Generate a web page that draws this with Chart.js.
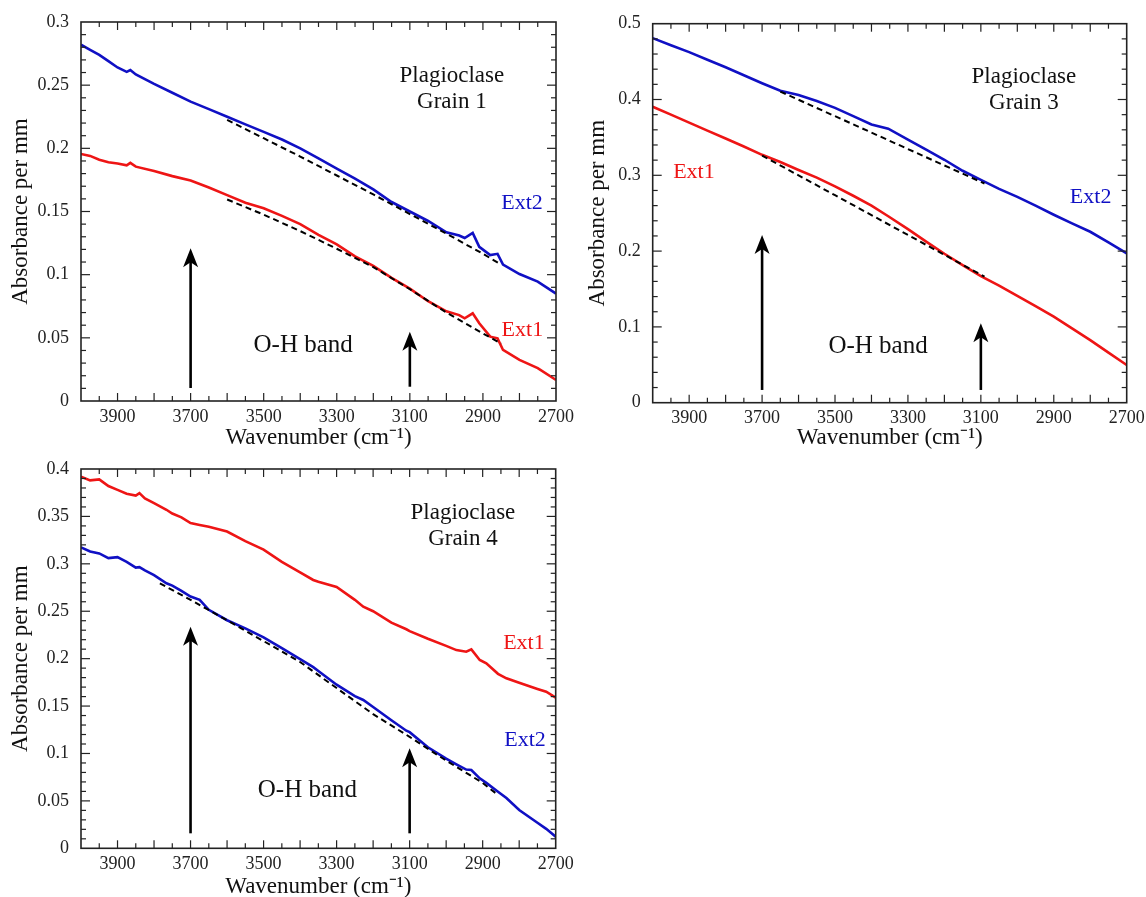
<!DOCTYPE html>
<html>
<head>
<meta charset="utf-8">
<script src="https://cdn.jsdelivr.net/npm/chart.js@4.4.0/dist/chart.umd.min.js"></script>
<style>
  body { margin: 0; background: #fff; overflow: hidden; width: 1146px; height: 897px; position: relative; }
  canvas { position: absolute; }
</style>
</head>
<body>
<canvas id="grain1" width="590" height="460" style="left:0;top:0"></canvas>
<canvas id="grain3" width="573" height="460" style="left:573px;top:0"></canvas>
<canvas id="grain4" width="590" height="460" style="left:0;top:447px"></canvas>
<script>
// x axis, shared by the three panels
const wnTicks = [3900, 3700, 3500, 3300, 3100, 2900, 2700];
const arrowWn = [3700, 3100];

// Grain 1
const g1Wn = [4000, 3975, 3950, 3925, 3900, 3875, 3865, 3850, 3800, 3750, 3700, 3650, 3600, 3550, 3500, 3450, 3400, 3350, 3300, 3250, 3200, 3150, 3100, 3050, 3000, 2965, 2950, 2928, 2910, 2880, 2860, 2845, 2800, 2750, 2700];
const g1Ext1 = [0.1955, 0.194, 0.191, 0.189, 0.188, 0.1865, 0.1885, 0.1855, 0.182, 0.178, 0.1745, 0.169, 0.163, 0.157, 0.1525, 0.1465, 0.140, 0.1315, 0.124, 0.1145, 0.107, 0.0975, 0.089, 0.079, 0.071, 0.068, 0.0655, 0.0694, 0.0615, 0.0509, 0.0496, 0.0404, 0.0325, 0.026, 0.0166];
const g1Ext2 = [0.282, 0.278, 0.274, 0.269, 0.264, 0.2605, 0.262, 0.2585, 0.251, 0.244, 0.237, 0.231, 0.225, 0.219, 0.213, 0.207, 0.200, 0.192, 0.184, 0.176, 0.1675, 0.1575, 0.150, 0.1425, 0.1335, 0.131, 0.129, 0.133, 0.122, 0.1155, 0.1165, 0.108, 0.1005, 0.0945, 0.085];
const g1BaseWn = [3600, 3500, 3400, 3300, 3200, 3100, 3000, 2900, 2850];
const g1Base1 = [0.1595, 0.1475, 0.1345, 0.1205, 0.106, 0.0885, 0.070, 0.0535, 0.0455];
const g1Base2 = [0.2225, 0.208, 0.1935, 0.1785, 0.1635, 0.148, 0.1325, 0.1165, 0.108];
const g1ArrowFrom = [0.0103, 0.0113];
const g1ArrowTo = [0.121, 0.0548];
const g1YTicks = [0, 0.05, 0.1, 0.15, 0.2, 0.25, 0.3];

// Grain 3
const g3Wn = [4000, 3950, 3900, 3850, 3800, 3750, 3700, 3650, 3600, 3550, 3500, 3450, 3400, 3354, 3300, 3250, 3200, 3150, 3100, 3050, 3000, 2950, 2900, 2850, 2800, 2750, 2700];
const g3Ext1 = [0.3905, 0.380, 0.3695, 0.359, 0.3485, 0.338, 0.327, 0.3175, 0.307, 0.297, 0.2855, 0.273, 0.260, 0.246, 0.229, 0.2125, 0.1965, 0.1815, 0.167, 0.1545, 0.141, 0.1275, 0.1135, 0.098, 0.0825, 0.066, 0.0497];
const g3Ext2 = [0.481, 0.4715, 0.4625, 0.4525, 0.4425, 0.432, 0.4215, 0.4115, 0.406, 0.398, 0.389, 0.378, 0.367, 0.3615, 0.347, 0.334, 0.3205, 0.306, 0.294, 0.282, 0.2715, 0.260, 0.248, 0.2365, 0.2255, 0.2115, 0.197];
const g3Base1Wn = [3700, 3600, 3500, 3400, 3300, 3200, 3090];
const g3Base1 = [0.326, 0.2999, 0.2737, 0.2475, 0.2213, 0.1951, 0.1663];
const g3Base2Wn = [3650, 3550, 3450, 3350, 3250, 3150, 3090];
const g3Base2 = [0.4105, 0.3888, 0.3672, 0.3455, 0.3238, 0.3022, 0.2892];
const g3ArrowFrom = [0.0168, 0.0168];
const g3ArrowTo = [0.2212, 0.1047];
const g3YTicks = [0, 0.1, 0.2, 0.3, 0.4, 0.5];

// Grain 4
const g4Wn = [4000, 3975, 3950, 3925, 3900, 3875, 3850, 3840, 3825, 3800, 3766, 3750, 3725, 3700, 3675, 3650, 3600, 3550, 3500, 3450, 3400, 3364, 3350, 3300, 3250, 3227, 3200, 3150, 3109, 3100, 3050, 3000, 2972, 2945, 2931, 2908, 2890, 2858, 2835, 2800, 2750, 2726, 2700];
const g4Ext1 = [0.392, 0.388, 0.389, 0.382, 0.378, 0.374, 0.372, 0.3745, 0.369, 0.364, 0.357, 0.353, 0.349, 0.343, 0.341, 0.339, 0.334, 0.324, 0.315, 0.302, 0.291, 0.283, 0.281, 0.2755, 0.262, 0.2548, 0.250, 0.238, 0.231, 0.229, 0.221, 0.2135, 0.209, 0.2073, 0.2098, 0.1986, 0.195, 0.184, 0.1793, 0.1745, 0.168, 0.1651, 0.159];
const g4Ext2 = [0.3174, 0.313, 0.311, 0.306, 0.307, 0.302, 0.296, 0.2965, 0.293, 0.288, 0.2795, 0.277, 0.2715, 0.2655, 0.262, 0.2515, 0.2405, 0.232, 0.2225, 0.211, 0.1995, 0.191, 0.187, 0.1725, 0.1605, 0.1564, 0.149, 0.135, 0.124, 0.1225, 0.1065, 0.0945, 0.0885, 0.083, 0.0826, 0.0738, 0.069, 0.0597, 0.053, 0.0404, 0.027, 0.0205, 0.0122];
const g4BaseWn = [3784, 3700, 3600, 3500, 3400, 3300, 3200, 3100, 3000, 2900, 2858];
const g4Base2 = [0.2794, 0.262, 0.2405, 0.2185, 0.1965, 0.169, 0.1415, 0.1175, 0.0925, 0.069, 0.0562];
const g4ArrowFrom = [0.0158, 0.0158];
const g4ArrowTo = [0.2337, 0.1055];
const g4YTicks = [0, 0.05, 0.1, 0.15, 0.2, 0.25, 0.3, 0.35, 0.4];

const SERIF = '"Liberation Serif", "Times New Roman", serif';
const RED = '#ee1515';
const BLUE = '#1010c4';
const INK = '#222';

const pts = (xs, ys) => xs.map((x, i) => ({ x, y: ys[i] }));

// box, inward ticks on all sides, arrows and the text notes
const framePlugin = {
  id: 'frame',
  afterDatasetsDraw(chart, args, o) {
    const { ctx, chartArea: a, scales: { x, y } } = chart;
    ctx.save();

    // arrows
    ctx.strokeStyle = '#000';
    ctx.fillStyle = '#000';
    ctx.lineWidth = 2.6;
    o.arrowWn.forEach((wn, i) => {
      const px = x.getPixelForValue(wn);
      const y0 = y.getPixelForValue(o.arrowFrom[i]);
      const y1 = y.getPixelForValue(o.arrowTo[i]);
      ctx.beginPath();
      ctx.moveTo(px, y0);
      ctx.lineTo(px, y1 + 12);
      ctx.stroke();
      ctx.beginPath();
      ctx.moveTo(px, y1);
      ctx.lineTo(px - 7.5, y1 + 19);
      ctx.lineTo(px, y1 + 14);
      ctx.lineTo(px + 7.5, y1 + 19);
      ctx.closePath();
      ctx.fill();
    });

    // ticks
    ctx.strokeStyle = INK;
    ctx.lineWidth = 1.2;
    const seg = (x0, y0, x1, y1) => { ctx.beginPath(); ctx.moveTo(x0, y0); ctx.lineTo(x1, y1); ctx.stroke(); };
    for (let v = 2750; v < 4000; v += 50) {
      const px = x.getPixelForValue(v);
      const len = v % 100 === 0 ? 8 : 5;
      seg(px, a.bottom, px, a.bottom - len);
      seg(px, a.top, px, a.top + len);
    }
    const n = Math.round(o.yMax / o.yMinor);
    for (let i = 1; i < n; i++) {
      const py = y.getPixelForValue(i * o.yMinor);
      const len = i % 5 === 0 ? 9 : 5;
      seg(a.left, py, a.left + len, py);
      seg(a.right, py, a.right - len, py);
    }
    ctx.lineWidth = 1.6;
    ctx.strokeRect(a.left, a.top, a.right - a.left, a.bottom - a.top);

    // notes
    ctx.textAlign = 'center';
    ctx.textBaseline = 'middle';
    o.notes.forEach(t => {
      ctx.font = t.size + 'px ' + SERIF;
      ctx.fillStyle = t.color || '#111';
      ctx.fillText(t.text, x.getPixelForValue(t.wn), y.getPixelForValue(t.abs));
    });
    ctx.restore();
  }
};

function lineSet(data, color, dashed) {
  return {
    data,
    borderColor: color,
    borderWidth: dashed ? 2 : 2.6,
    borderDash: dashed ? [6, 4] : [],
    pointRadius: 0,
    tension: 0,
    fill: false
  };
}

function makePanel(id, p) {
  new Chart(document.getElementById(id), {
    type: 'line',
    data: { datasets: p.sets },
    options: {
      responsive: false,
      animation: false,
      devicePixelRatio: 1,
      layout: { autoPadding: false, padding: { left: 0, top: p.top, right: p.right, bottom: 0 } },
      plugins: {
        legend: { display: false },
        tooltip: { enabled: false },
        frame: p.frame
      },
      scales: {
        x: {
          type: 'linear',
          reverse: true,
          min: 2700,
          max: 4000,
          afterBuildTicks: s => { s.ticks = wnTicks.map(v => ({ value: v })); },
          afterFit: s => { s.height = p.xH; s.paddingLeft = 0; s.paddingRight = 0; },
          grid: { display: false, drawTicks: false },
          border: { display: false },
          ticks: {
            padding: 5,
            color: INK,
            maxRotation: 0,
            autoSkip: false,
            font: { family: SERIF, size: 18 },
            callback: v => String(v)
          },
          title: {
            display: true,
            text: 'Wavenumber (cm\u207B\u00B9)',
            color: '#111',
            font: { family: SERIF, size: 23 },
            padding: { top: 0, bottom: p.xtPad }
          }
        },
        y: {
          type: 'linear',
          min: 0,
          max: p.frame.yMax,
          afterBuildTicks: s => { s.ticks = p.yTicks.map(v => ({ value: v })); },
          afterFit: s => { s.width = p.yW; s.paddingTop = 0; s.paddingBottom = 0; },
          grid: { display: false, drawTicks: false },
          border: { display: false },
          ticks: {
            padding: 12,
            color: INK,
            font: { family: SERIF, size: 18 },
            callback: v => String(+Number(v).toFixed(3))
          },
          title: {
            display: true,
            text: 'Absorbance per mm',
            color: '#111',
            font: { family: SERIF, size: 23 },
            padding: { top: p.ytPad, bottom: 0 }
          }
        }
      }
    },
    plugins: [framePlugin]
  });
}

makePanel('grain1', {
  top: 22, right: 34, yW: 81, xH: 59, xtPad: 8.2, ytPad: 7.2, yTicks: g1YTicks,
  sets: [
    lineSet(pts(g1BaseWn, g1Base1), '#000', true),
    lineSet(pts(g1BaseWn, g1Base2), '#000', true),
    lineSet(pts(g1Wn, g1Ext1), RED),
    lineSet(pts(g1Wn, g1Ext2), BLUE)
  ],
  frame: {
    yMax: 0.3, yMinor: 0.01, arrowWn, arrowFrom: g1ArrowFrom, arrowTo: g1ArrowTo,
    notes: [
      { text: 'Plagioclase', wn: 2985, abs: 0.2573, size: 23 },
      { text: 'Grain 1', wn: 2985, abs: 0.2367, size: 23 },
      { text: 'O-H band', wn: 3392, abs: 0.0443, size: 25 },
      { text: 'Ext2', wn: 2793, abs: 0.1567, size: 22, color: BLUE },
      { text: 'Ext1', wn: 2792, abs: 0.0562, size: 22, color: RED }
    ]
  }
});

makePanel('grain3', {
  top: 23.7, right: 19.3, yW: 79.7, xH: 57.3, xtPad: 8.2, ytPad: 11.2, yTicks: g3YTicks,
  sets: [
    lineSet(pts(g3Base1Wn, g3Base1), '#000', true),
    lineSet(pts(g3Base2Wn, g3Base2), '#000', true),
    lineSet(pts(g3Wn, g3Ext1), RED),
    lineSet(pts(g3Wn, g3Ext2), BLUE)
  ],
  frame: {
    yMax: 0.5, yMinor: 0.02, arrowWn, arrowFrom: g3ArrowFrom, arrowTo: g3ArrowTo,
    notes: [
      { text: 'Plagioclase', wn: 2982, abs: 0.4297, size: 23 },
      { text: 'Grain 3', wn: 2982, abs: 0.3954, size: 23 },
      { text: 'O-H band', wn: 3382, abs: 0.0748, size: 25 },
      { text: 'Ext1', wn: 3887, abs: 0.3044, size: 22, color: RED },
      { text: 'Ext2', wn: 2799, abs: 0.2714, size: 22, color: BLUE }
    ]
  }
});

makePanel('grain4', {
  top: 22, right: 34.3, yW: 81, xH: 58.7, xtPad: 6.5, ytPad: 7, yTicks: g4YTicks,
  sets: [
    lineSet(pts(g4BaseWn, g4Base2), '#000', true),
    lineSet(pts(g4Wn, g4Ext1), RED),
    lineSet(pts(g4Wn, g4Ext2), BLUE)
  ],
  frame: {
    yMax: 0.4, yMinor: 0.01, arrowWn, arrowFrom: g4ArrowFrom, arrowTo: g4ArrowTo,
    notes: [
      { text: 'Plagioclase', wn: 2954, abs: 0.3536, size: 23 },
      { text: 'Grain 4', wn: 2954, abs: 0.3262, size: 23 },
      { text: 'O-H band', wn: 3380, abs: 0.0615, size: 25 },
      { text: 'Ext1', wn: 2787, abs: 0.2168, size: 22, color: RED },
      { text: 'Ext2', wn: 2784, abs: 0.1142, size: 22, color: BLUE }
    ]
  }
});
</script>
</body>
</html>
